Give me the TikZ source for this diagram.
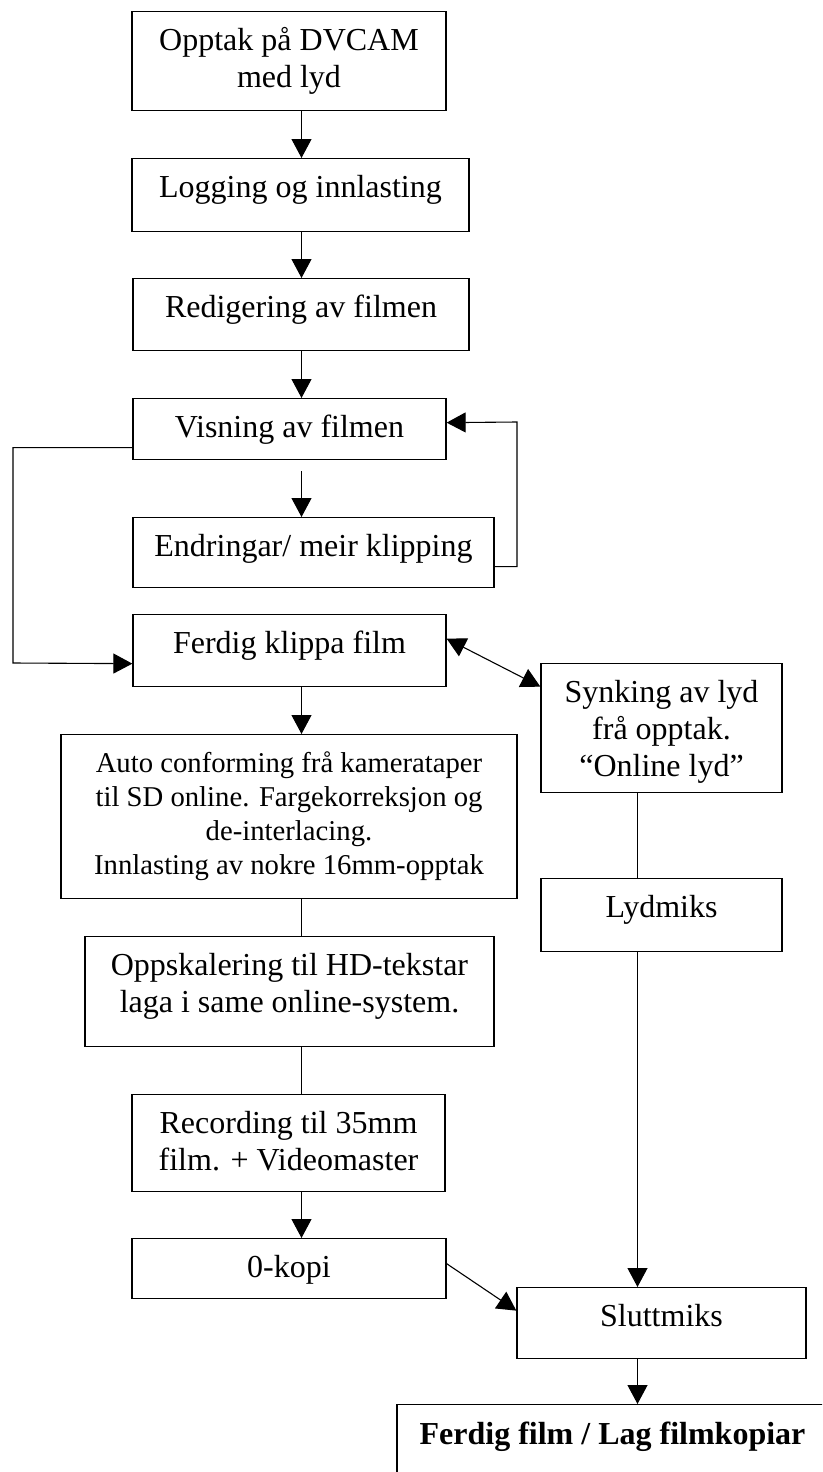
\documentclass[tikz,border=0pt]{standalone}
\usepackage{fontspec}
\setmainfont{Liberation Serif}
\usetikzlibrary{arrows.meta,calc}
\newcommand{\mlines}[1]{\begin{tabular}[t]{@{}c@{}}#1\end{tabular}}
\begin{document}
\begin{tikzpicture}[x=1pt,y=-1pt,
  box/.style={draw, line width=1.3pt, inner sep=0pt, anchor=north, text height=39pt,
    font=\fontsize{32pt}{37pt}\selectfont},
  smallbox/.style={box, text height=38pt, font=\fontsize{28.7pt}{34pt}\selectfont},
  conn/.style={line width=1.1pt},
  arr/.style={conn, -{Triangle[length=19pt,width=20pt]}},
  darr/.style={conn, {Triangle[length=19pt,width=20pt]}-{Triangle[length=19pt,width=20pt]}}]
\useasboundingbox (0,0) rectangle (822,1472);
\clip (0,0) rectangle (822,1472);
% boxes
\node[box, minimum width=314pt, text depth=60pt] (b1) at (289,11) {\mlines{Opptak på DVCAM\\med lyd}};
\node[box, minimum width=337pt, text depth=34pt] (b2) at (300.5,158) {Logging og innlasting};
\node[box, minimum width=336pt, text depth=33pt] (b3) at (301,278) {Redigering av filmen};
\node[box, minimum width=313pt, text depth=22pt] (b4) at (289.5,398) {Visning av filmen};
\node[box, minimum width=361pt, text depth=31pt] (b5) at (313.5,517) {Endringar/ meir klipping};
\node[box, minimum width=313pt, text depth=33pt] (b6) at (289.5,614) {Ferdig klippa film};
\node[box, minimum width=241pt, text depth=90pt] (b7) at (661.5,663) {\mlines{Synking av lyd\\frå opptak.\\“Online lyd”}};
\node[smallbox, minimum width=456pt, text depth=126pt] (b8) at (289,734) {\mlines{Auto conforming frå kamerataper\\til SD online. Fargekorreksjon og\\de-interlacing.\\Innlasting av nokre 16mm-opptak}};
\node[box, minimum width=241pt, text depth=34pt] (b9) at (661.5,878) {Lydmiks};
\node[box, minimum width=409pt, text depth=71pt] (b10) at (289.5,936) {\mlines{Oppskalering til HD-tekstar\\laga i same online-system.}};
\node[box, minimum width=313pt, text depth=58pt] (b11) at (288.5,1094) {\mlines{Recording til 35mm\\film. + Videomaster}};
\node[box, minimum width=314pt, text depth=21pt] (b12) at (289,1238) {0-kopi};
\node[box, minimum width=289pt, text depth=32pt] (b13) at (661.5,1287) {Sluttmiks};
\node[box, minimum width=431pt, text height=40pt, text depth=80pt,
  font=\fontsize{32pt}{37pt}\selectfont\bfseries] (b14) at (612.5,1404) {Ferdig film / Lag filmkopiar};
% guide coordinates
\coordinate (ax) at (301.5,0);
\coordinate (rx) at (637.5,0);
\coordinate (l2) at (13,663);
\coordinate (f2) at (517,422);
% connectors
\draw[arr] (b1.south -| ax) -- (b2.north -| ax);
\draw[arr] (b2.south -| ax) -- (b3.north -| ax);
\draw[arr] (b3.south -| ax) -- (b4.north -| ax);
\draw[arr] ([yshift=-11pt]b4.south -| ax) -- (b5.north -| ax);
\draw[arr] ([yshift=-18.5pt]b4.west) -| (l2) -- ([yshift=-13pt]b6.west);
\draw[arr] ([yshift=-14pt]b5.east) -| (f2) -- ([yshift=6.5pt]b4.east);
\draw[darr] ([yshift=12pt]b6.east) -- ([yshift=41.5pt]b7.west);
\draw[arr] (b6.south -| ax) -- (b8.north -| ax);
\draw[conn] (b8.south -| ax) -- (b10.north -| ax);
\draw[conn] (b10.south -| ax) -- (b11.north -| ax);
\draw[arr] (b11.south -| ax) -- (b12.north -| ax);
\draw[arr] ([yshift=5pt]b12.east) -- ([yshift=12.5pt]b13.west);
\draw[conn] (b7.south -| rx) -- (b9.north -| rx);
\draw[arr] (b9.south -| rx) -- (b13.north -| rx);
\draw[arr] (b13.south -| rx) -- (b14.north -| rx);
\end{tikzpicture}
\end{document}
